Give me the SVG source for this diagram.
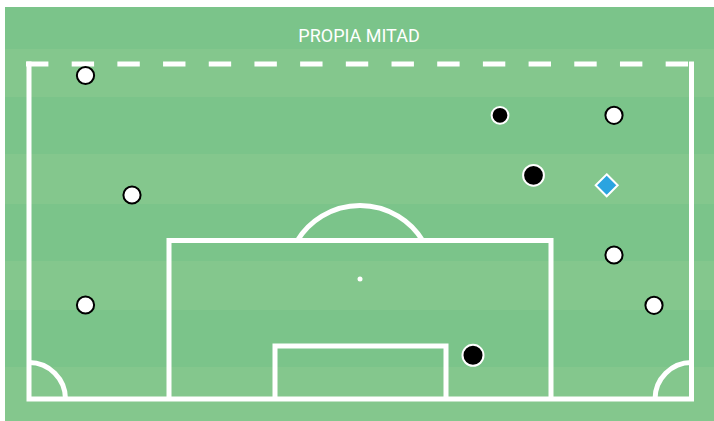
<svg xmlns="http://www.w3.org/2000/svg" width="714" height="421" viewBox="0 0 714 421">
  <style>
    .dark { fill: #7bc48a; }
    .light { fill: #84c78d; }
    .line { fill: none; stroke: #ffffff; stroke-width: 5; }
    .wp { fill: #ffffff; stroke: #000000; stroke-width: 2; }
    .bp { fill: #000000; stroke: #ffffff; stroke-width: 2; }
    .gk { fill: #2ba4e0; stroke: #ffffff; stroke-width: 2; stroke-linejoin: miter; }
    .title { font-family: Roboto, "Liberation Sans", sans-serif; font-size: 18px; fill: #ffffff; }
  </style>
  <rect x="0" y="0" width="714" height="421" fill="#ffffff"/>
  <g id="stripes">
    <rect class="dark" x="5" y="7" width="709" height="42"/>
    <rect class="light" x="5" y="49" width="709" height="48"/>
    <rect class="dark" x="5" y="97" width="709" height="57"/>
    <rect class="light" x="5" y="154" width="709" height="50"/>
    <rect class="dark" x="5" y="204" width="709" height="57"/>
    <rect class="light" x="5" y="261" width="709" height="49"/>
    <rect class="dark" x="5" y="310" width="709" height="57"/>
    <rect class="light" x="5" y="367" width="709" height="54"/>
  </g>
  <text class="title" x="359" y="42" text-anchor="middle">PROPIA MITAD</text>
  <g id="pitch">
    <line class="line" x1="26" y1="64" x2="694" y2="64" stroke-dasharray="22.4 23.29"/>
    <path class="line" d="M29,61.5 V399 H691.5 V61.5"/>
    <path class="line" d="M169,399 V240.5 H551 V399"/>
    <path class="line" d="M275,399 V346 H446 V399"/>
    <path class="line" d="M297.4,240.5 A73.5,73.5 0 0 1 422.6,240.5"/>
    <circle cx="360" cy="279" r="2.5" fill="#ffffff"/>
    <path class="line" d="M29,362.5 A36.5,36.5 0 0 1 65.5,399"/>
    <path class="line" d="M691.5,362.5 A36.5,36.5 0 0 0 655,399"/>
  </g>
  <g id="player-w1"><circle class="wp" cx="85.5" cy="75.5" r="8.6"/></g>
  <g id="player-w2"><circle class="wp" cx="132" cy="195" r="8.6"/></g>
  <g id="player-w3"><circle class="wp" cx="85.5" cy="305" r="8.6"/></g>
  <g id="player-w4"><circle class="wp" cx="614" cy="115.3" r="8.6"/></g>
  <g id="player-w5"><circle class="wp" cx="614" cy="255" r="8.6"/></g>
  <g id="player-w6"><circle class="wp" cx="654" cy="305.3" r="8.6"/></g>
  <g id="player-b1"><circle class="bp" cx="500" cy="115.3" r="8.4"/></g>
  <g id="player-b2"><circle class="bp" cx="533.5" cy="175.3" r="10.4"/></g>
  <g id="player-b3"><circle class="bp" cx="473" cy="355.3" r="10.5"/></g>
  <g id="goalkeeper"><polygon class="gk" points="606.7,174.3 617.7,185.3 606.7,196.3 595.7,185.3"/></g>
  <g id="connectors"/>
</svg>
